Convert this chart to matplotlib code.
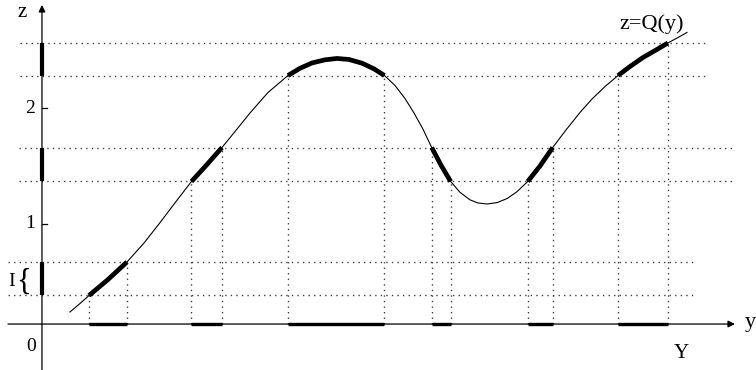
import matplotlib
matplotlib.use("Agg")
import matplotlib.pyplot as plt
import numpy as np

plt.rcParams['font.family'] = ['Liberation Serif', 'DejaVu Serif']

# curve z = Q(y)
y_curve = [0.243, 0.330, 0.409, 0.574, 0.739, 0.887, 1.026, 1.165, 1.300, 1.435,
           1.565, 1.661, 1.809, 1.965, 2.139, 2.244, 2.348, 2.461, 2.565, 2.670,
           2.783, 2.887, 2.978, 3.070, 3.157, 3.235, 3.313, 3.389, 3.470, 3.554,
           3.635, 3.722, 3.791, 3.870, 3.957, 4.044, 4.130, 4.224, 4.330, 4.441,
           4.557, 4.678, 4.783, 4.896, 5.009, 5.113, 5.226, 5.339, 5.443, 5.530,
           5.609]
z_curve = [0.234, 0.307, 0.377, 0.515, 0.667, 0.831, 1.007, 1.190, 1.364, 1.511,
           1.658, 1.775, 1.957, 2.134, 2.281, 2.344, 2.390, 2.417, 2.429, 2.420,
           2.388, 2.339, 2.281, 2.195, 2.082, 1.957, 1.817, 1.658, 1.505, 1.364,
           1.270, 1.205, 1.178, 1.169, 1.181, 1.216, 1.275, 1.364, 1.497, 1.658,
           1.810, 1.961, 2.078, 2.186, 2.281, 2.359, 2.437, 2.502, 2.563, 2.610,
           2.654]

# intervals I on the z axis and their preimages on the y axis
z_intervals = [(0.377, 0.667), (1.364, 1.658), (2.281, 2.563)]
y_intervals = [(0.409, 0.739), (1.300, 1.565), (2.139, 2.978),
               (3.389, 3.554), (4.224, 4.441), (5.009, 5.443)]
# x extent of the dotted level lines, one per interval
level_extent = [(-0.296, 5.678), (-0.200, 6.026), (-0.191, 5.765)]

z_ticks = [1, 2]
y_axis_z = 0.13  # height of the horizontal axis

fig = plt.figure(figsize=(7.56, 3.70), dpi=100)
ax = fig.add_axes([0, 0, 1, 1])
ax.set_xlim(-0.365, 6.209)
ax.set_ylim(-0.268, 2.935)
ax.axis('off')

yc = np.array(y_curve)
zc = np.array(z_curve)

# dotted level lines
dot = (0, (1, 3))
for (lo, hi), (x0, x1) in zip(z_intervals, level_extent):
    for lev in (lo, hi):
        ax.plot([x0, x1], [lev, lev], color='0.25', lw=1.0, ls=dot)

# dotted verticals from curve down to the y axis
for a, b in y_intervals:
    for yv in (a, b):
        zv = np.interp(yv, yc, zc)
        ax.plot([yv, yv], [y_axis_z, zv], color='0.25', lw=1.0, ls=dot)

# axes with arrows
ax.annotate('', xy=(6.026, y_axis_z), xytext=(-0.296, y_axis_z),
            arrowprops=dict(arrowstyle='-|>', color='k', lw=0.9,
                            mutation_scale=10, shrinkA=0, shrinkB=0))
ax.annotate('', xy=(0, 2.892), xytext=(0, -0.268),
            arrowprops=dict(arrowstyle='-|>', color='k', lw=0.9,
                            mutation_scale=10, shrinkA=0, shrinkB=0))

# ticks on z axis
for t in z_ticks:
    ax.plot([0, 0.04], [t, t], color='k', lw=0.9)
    ax.text(-0.06, t, str(t), ha='right', va='center', fontsize=14)

# the curve
ax.plot(yc, zc, color='k', lw=0.8)

# thick pieces: on the curve, on the y axis, on the z axis
for a, b in y_intervals:
    m = (yc >= a - 1e-6) & (yc <= b + 1e-6)
    ax.plot(yc[m], zc[m], color='k', lw=3.4, solid_capstyle='butt')
    ax.plot([a, b], [y_axis_z, y_axis_z], color='k', lw=2.4, solid_capstyle='butt')
for lo, hi in z_intervals:
    ax.plot([0, 0], [lo, hi], color='k', lw=3.0, solid_capstyle='butt')

# labels
ax.text(-0.174, 2.831, 'z', ha='center', va='center', fontsize=15)
ax.text(6.157, 0.147, 'y', ha='center', va='center', fontsize=16)
ax.text(-0.09, -0.067, '0', ha='center', va='center', fontsize=14)
ax.text(5.563, -0.124, 'Y', ha='center', va='center', fontsize=15)
ax.text(5.304, 2.727, 'z=Q(y)', ha='center', va='center', fontsize=16)
ax.text(-0.265, 0.502, 'I', ha='center', va='center', fontsize=14)
ax.text(-0.157, 0.49, '{', ha='center', va='center', fontsize=22)

fig.savefig('out.png', dpi=100)
